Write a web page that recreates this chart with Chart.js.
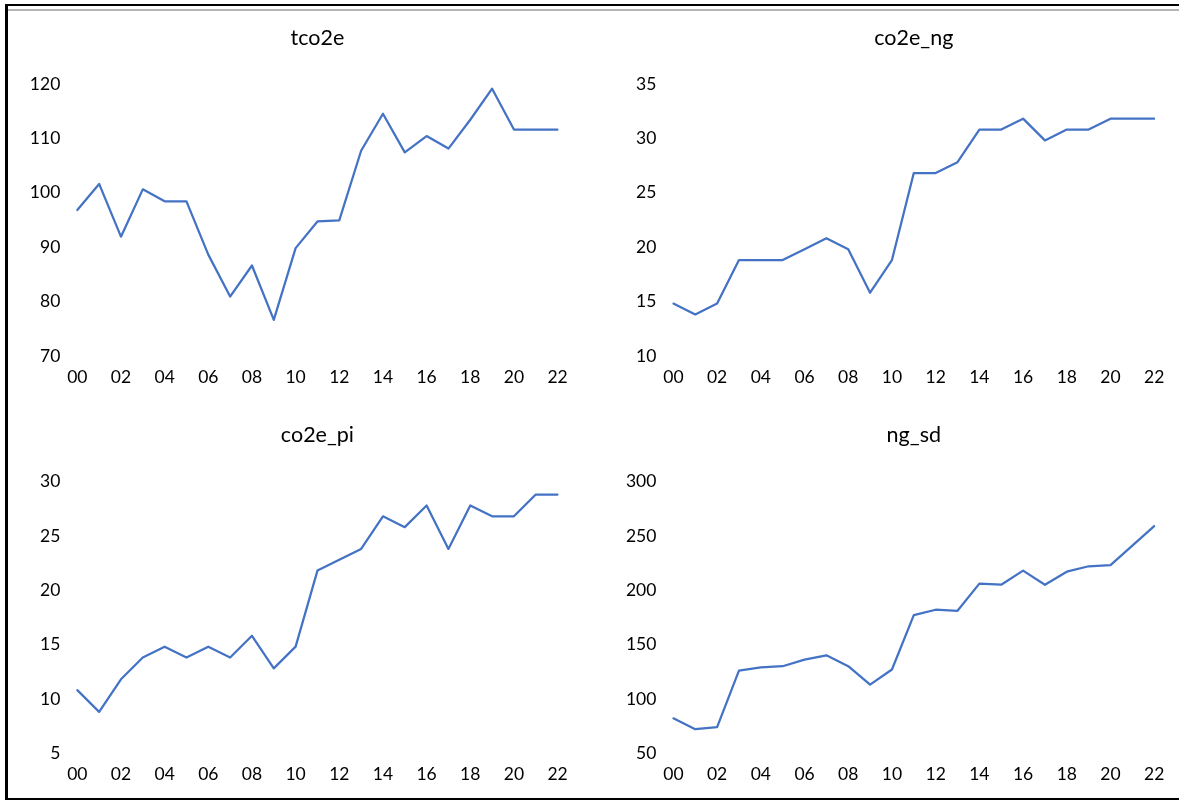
<!DOCTYPE html>
<html>
<head>
<meta charset="utf-8">
<script src="https://cdn.jsdelivr.net/npm/chart.js@4.4.0/dist/chart.umd.min.js"></script>
<style>
  html, body { margin: 0; padding: 0; background: #fff; overflow: hidden; }
  #page { position: relative; width: 1179px; height: 801px; overflow: hidden; background: #fff; }
  .rule { position: absolute; }
  .panel { position: absolute; }
  .panel canvas { display: block; }
</style>
</head>
<body>
<div id="page">
  <div class="rule" style="left:5px;top:4px;width:1174px;height:2px;background:#000"></div>
  <div class="rule" style="left:8px;top:9px;width:1171px;height:2px;background:#b4b4b4"></div>
  <div class="rule" style="left:5px;top:4px;width:3px;height:796px;background:#000"></div>
  <div class="rule" style="left:5px;top:798px;width:1174px;height:2px;background:#000"></div>
  <div class="panel" id="p1"><canvas id="c1"></canvas></div>
  <div class="panel" id="p2"><canvas id="c2"></canvas></div>
  <div class="panel" id="p3"><canvas id="c3"></canvas></div>
  <div class="panel" id="p4"><canvas id="c4"></canvas></div>
</div>
<script>
// Years 2000-2022, two-digit labels
const years = ['00','01','02','03','04','05','06','07','08','09','10','11',
               '12','13','14','15','16','17','18','19','20','21','22'];

const tco2e   = [97.2, 102.0, 92.3, 101.0, 98.8, 98.8, 89.0, 81.3, 87.0, 77.0, 90.2, 95.1,
                 95.3, 108.1, 114.9, 107.8, 110.8, 108.5, 113.8, 119.5, 112.0, 112.0, 112.0];
const co2e_ng = [15, 14, 15, 19, 19, 19, 20, 21, 20, 16, 19, 27,
                 27, 28, 31, 31, 32, 30, 31, 31, 32, 32, 32];
const co2e_pi = [11, 9, 12, 14, 15, 14, 15, 14, 16, 13, 15, 22,
                 23, 24, 27, 26, 28, 24, 28, 27, 27, 29, 29];
const ng_sd   = [84, 74, 76, 128, 131, 132, 138, 142, 132, 115, 129, 179,
                 184, 183, 208, 207, 220, 207, 219, 224, 225, 243, 261];

// y-axis ranges: [min, max, step]
const tco2eRange   = [70, 120, 10];
const co2eNgRange  = [10, 35, 5];
const co2ePiRange  = [5, 30, 5];
const ngSdRange    = [50, 300, 50];

const LINE = '#4472C4';
const TEXT = '#000000';
const FONT = 'Lato, "Open Sans", "Liberation Sans", sans-serif';

// box = panel rectangle on the page, area = plot area on the page
function makePanel(panelId, canvasId, box, area, titleY, title, values, range) {
  const panel = document.getElementById(panelId);
  panel.style.left = box.x + 'px';
  panel.style.top = box.y + 'px';
  panel.style.width = box.w + 'px';
  panel.style.height = box.h + 'px';

  const relLeft = area.l - box.x;
  const relRight = area.r - box.x;
  const relTop = area.t - box.y;
  const relBottom = area.b - box.y;
  const titleSize = 21.5;
  const titleLine = titleSize * 1.2;
  const tPadTop = (titleY - box.y) - titleLine / 2;
  const tPadBottom = relTop - tPadTop - titleLine;

  new Chart(document.getElementById(canvasId), {
    type: 'line',
    data: {
      labels: years,
      datasets: [{
        label: title,
        data: values,
        borderColor: LINE,
        backgroundColor: LINE,
        borderWidth: 2.25,
        borderJoinStyle: 'round',
        borderCapStyle: 'round',
        pointRadius: 0,
        tension: 0,
        fill: false
      }]
    },
    options: {
      responsive: true,
      maintainAspectRatio: false,
      animation: false,
      devicePixelRatio: 1,
      layout: { padding: { left: 0, top: 0, right: box.w - relRight, bottom: 0 } },
      plugins: {
        legend: { display: false },
        tooltip: { enabled: false },
        title: {
          display: true,
          text: title,
          fullSize: false,
          color: TEXT,
          font: { family: FONT, size: titleSize, weight: 'normal', lineHeight: 1.2 },
          padding: { top: tPadTop, bottom: tPadBottom }
        }
      },
      scales: {
        x: {
          type: 'category',
          offset: false,
          grid: { display: false, drawTicks: false },
          border: { display: false },
          ticks: {
            color: TEXT,
            font: { family: FONT, size: 17.5 },
            padding: 9,
            autoSkip: false,
            maxRotation: 0,
            minRotation: 0,
            callback: function (v, i) { return i % 2 === 0 ? years[i] : ''; }
          },
          afterFit: function (s) { s.height = box.h - relBottom; }
        },
        y: {
          min: range[0],
          max: range[1],
          grid: { display: false, drawTicks: false },
          border: { display: false },
          ticks: {
            stepSize: range[2],
            color: TEXT,
            font: { family: FONT, size: 17.5 },
            padding: 17,
            labelOffset: -2
          },
          afterFit: function (s) { s.width = relLeft; }
        }
      }
    }
  });
}

makePanel('p1', 'c1', { x: 8, y: 12, w: 582, h: 388 }, { l: 77.3, r: 557.6, t: 86, b: 358 }, 38, 'tco2e', tco2e, tco2eRange);
makePanel('p2', 'c2', { x: 590, y: 12, w: 589, h: 388 }, { l: 673.4, r: 1154.2, t: 86, b: 358 }, 38, 'co2e_ng', co2e_ng, co2eNgRange);
makePanel('p3', 'c3', { x: 8, y: 400, w: 582, h: 397 }, { l: 77.3, r: 557.6, t: 483.7, b: 755.3 }, 435, 'co2e_pi', co2e_pi, co2ePiRange);
makePanel('p4', 'c4', { x: 590, y: 400, w: 589, h: 397 }, { l: 673.4, r: 1154.2, t: 483.7, b: 755.3 }, 435, 'ng_sd', ng_sd, ngSdRange);
</script>
</body>
</html>
